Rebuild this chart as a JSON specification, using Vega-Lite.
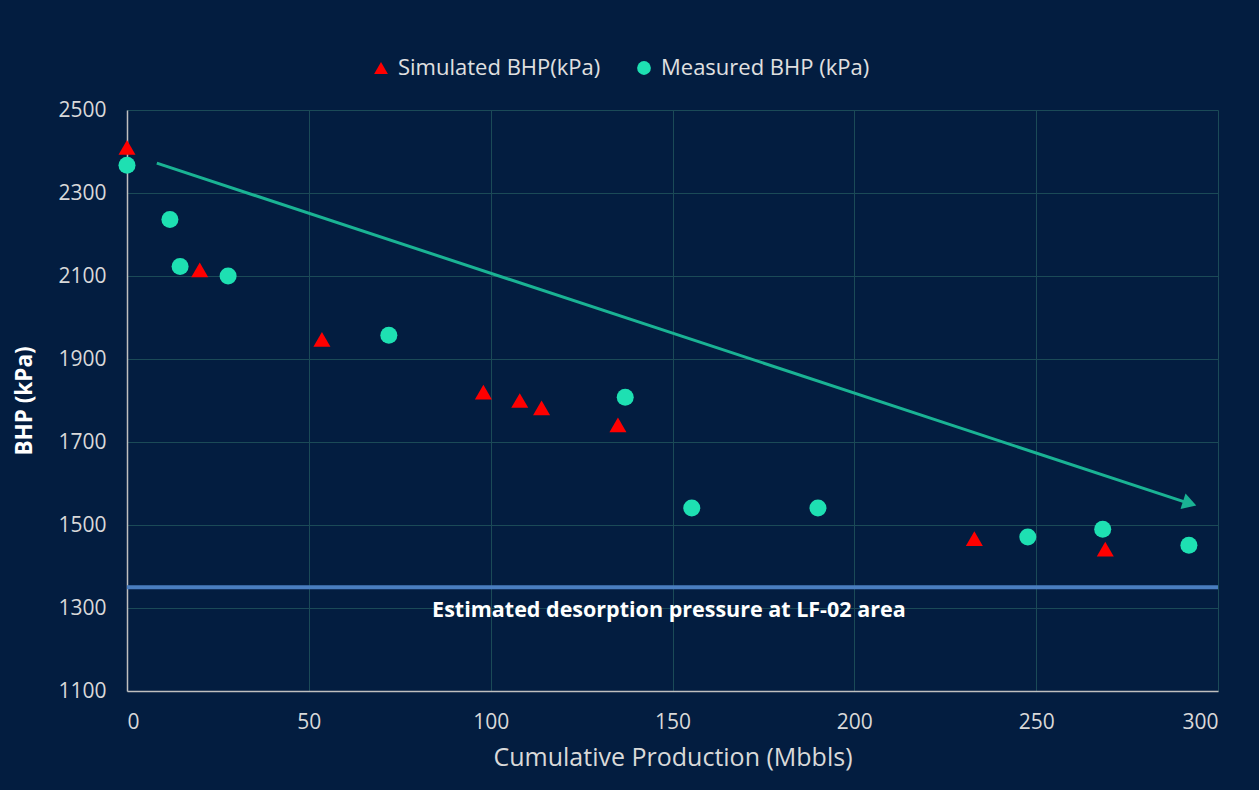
{
  "$schema": "https://vega.github.io/schema/vega-lite/v6.json",
  "autosize": {"type": "none"},
  "padding": {"left": 127, "top": 110, "right": 41, "bottom": 99},
  "width": 1091,
  "height": 581,
  "background": "#031d40",
  "config": {
    "view": {"stroke": null},
    "font": "Open Sans",
    "axis": {
      "labelColor": "#d9d9d9",
      "labelFont": "Open Sans",
      "titleColor": "#d9d9d9",
      "titleFont": "Open Sans",
      "gridColor": "#1b4a57",
      "gridWidth": 1,
      "domainColor": "#bfbfbf",
      "domainWidth": 1.5,
      "ticks": false,
      "format": "d"
    }
  },
  "datasets": {
    "points": [
      {"prod": 0, "bhp": 2410, "series": "Simulated BHP(kPa)"},
      {"prod": 20, "bhp": 2115, "series": "Simulated BHP(kPa)"},
      {"prod": 53.6, "bhp": 1947, "series": "Simulated BHP(kPa)"},
      {"prod": 98, "bhp": 1820, "series": "Simulated BHP(kPa)"},
      {"prod": 108, "bhp": 1800, "series": "Simulated BHP(kPa)"},
      {"prod": 114, "bhp": 1782, "series": "Simulated BHP(kPa)"},
      {"prod": 135, "bhp": 1741, "series": "Simulated BHP(kPa)"},
      {"prod": 233, "bhp": 1467, "series": "Simulated BHP(kPa)"},
      {"prod": 269, "bhp": 1442, "series": "Simulated BHP(kPa)"},
      {"prod": 0, "bhp": 2367, "series": "Measured BHP (kPa)"},
      {"prod": 11.8, "bhp": 2236, "series": "Measured BHP (kPa)"},
      {"prod": 14.6, "bhp": 2123, "series": "Measured BHP (kPa)"},
      {"prod": 27.8, "bhp": 2100, "series": "Measured BHP (kPa)"},
      {"prod": 72, "bhp": 1957, "series": "Measured BHP (kPa)"},
      {"prod": 137, "bhp": 1808, "series": "Measured BHP (kPa)"},
      {"prod": 155.3, "bhp": 1541, "series": "Measured BHP (kPa)"},
      {"prod": 190, "bhp": 1541, "series": "Measured BHP (kPa)"},
      {"prod": 247.7, "bhp": 1471, "series": "Measured BHP (kPa)"},
      {"prod": 268.3, "bhp": 1490, "series": "Measured BHP (kPa)"},
      {"prod": 292, "bhp": 1451, "series": "Measured BHP (kPa)"}
    ],
    "arrow": [
      {"prod": 8.2, "bhp": 2372},
      {"prod": 291, "bhp": 1555}
    ],
    "arrowhead": [
      {"prod": 292.2, "bhp": 1552}
    ],
    "desorption": [
      {"bhp": 1350, "label": "Estimated desorption pressure at LF-02 area", "prod": 149, "labelY": 1293}
    ]
  },
  "encoding": {
    "x": {
      "field": "prod", "type": "quantitative",
      "scale": {"domain": [0, 300], "nice": false, "zero": false},
      "axis": {"values": [0, 50, 100, 150, 200, 250, 300], "title": "Cumulative Production (Mbbls)", "titleFontSize": 25, "titleFontWeight": "normal", "titlePadding": 13, "labelPadding": 20, "labelFontSize": 21}
    },
    "y": {
      "field": "bhp", "type": "quantitative",
      "scale": {"domain": [1100, 2500], "nice": false, "zero": false},
      "axis": {"values": [1100, 1300, 1500, 1700, 1900, 2100, 2300, 2500], "title": "BHP (kPa)", "titleFontSize": 22.5, "titleFontWeight": "bold", "titleColor": "#ffffff", "titlePadding": 21, "labelPadding": 21, "labelFontSize": 21}
    }
  },
  "layer": [
    {
      "data": {"name": "desorption"},
      "mark": {"type": "rule", "color": "#4a7ec0", "strokeWidth": 4},
      "encoding": {"x": null}
    },
    {
      "data": {"name": "desorption"},
      "mark": {"type": "text", "color": "#ffffff", "fontSize": 21.5, "fontWeight": "bold", "font": "Open Sans", "align": "center", "baseline": "middle"},
      "encoding": {"y": {"field": "labelY", "type": "quantitative"}, "text": {"field": "label"}}
    },
    {
      "data": {"name": "arrow"},
      "mark": {"type": "line", "color": "#1ab394", "strokeWidth": 3}
    },
    {
      "data": {"name": "arrowhead"},
      "mark": {"type": "point", "shape": "triangle-right", "filled": true, "color": "#1ab394", "size": 260, "angle": 18.3, "opacity": 1}
    },
    {
      "data": {"name": "points"},
      "mark": {"type": "point", "filled": true, "opacity": 1, "size": 290},
      "encoding": {
        "color": {
          "field": "series", "type": "nominal",
          "scale": {"domain": ["Simulated BHP(kPa)", "Measured BHP (kPa)"], "range": ["#ff0000", "#1ee0b2"]},
          "legend": {
            "title": null, "orient": "none", "direction": "horizontal",
            "legendX": 243, "legendY": -53,
            "labelColor": "#e0e0e0", "labelFontSize": 22, "labelFont": "Open Sans", "labelLimit": 400,
            "symbolSize": 190, "columnPadding": 32, "labelOffset": 6
          }
        },
        "shape": {
          "field": "series", "type": "nominal",
          "scale": {"domain": ["Simulated BHP(kPa)", "Measured BHP (kPa)"], "range": ["triangle-up", "circle"]}
        }
      }
    }
  ]
}
